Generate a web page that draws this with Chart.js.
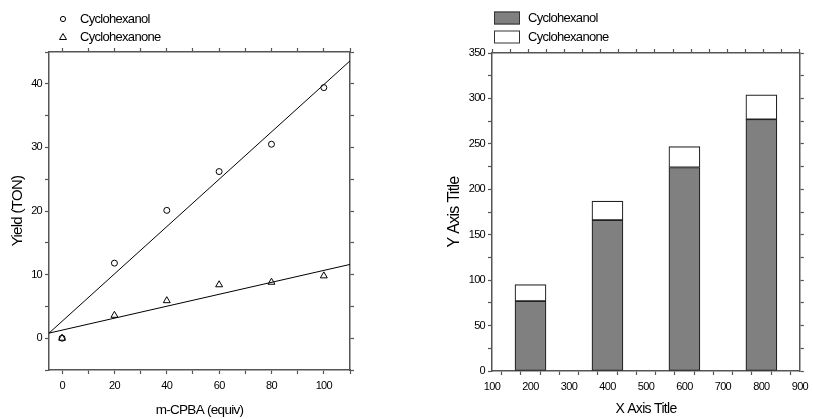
<!DOCTYPE html>
<html>
<head>
<meta charset="utf-8">
<script src="https://cdn.jsdelivr.net/npm/chart.js@4.4.1/dist/chart.umd.min.js"></script>
<style>
  body { margin: 0; background: #fff; }
  canvas { position: absolute; top: 0; }
  #left { left: 0; }
  #right { left: 400px; }
</style>
</head>
<body>
<canvas id="left" width="400" height="419"></canvas>
<canvas id="right" width="413" height="419"></canvas>
<script>
// left panel: yield vs m-CPBA
const equiv = [0, 20, 40, 60, 80, 100];
const anolTON = [0, 11.8, 20.1, 26.2, 30.5, 39.4];
const anoneTON = [0, 3.6, 5.9, 8.4, 8.8, 9.8];
const anolFit = [[-5, 0.8], [110, 43.6]];
const anoneFit = [[-5, 0.8], [110, 11.6]];
const leftXTicks = [0, 10, 20, 30, 40, 50, 60, 70, 80, 90, 100, 110];
const leftYTicks = [-5, 0, 5, 10, 15, 20, 25, 30, 35, 40, 45];

// right panel: stacked bars
const barX = [200, 400, 600, 800];
const barAnol = [77, 166, 224, 277];
const barAnone = [18, 21, 23, 27];
const rightXTicks = [100, 150, 200, 250, 300, 350, 400, 450, 500, 550, 600, 650, 700, 750, 800, 850, 900];
const rightYTicks = [0, 25, 50, 75, 100, 125, 150, 175, 200, 225, 250, 275, 300, 325, 350];

const axisColor = '#555';
const FONT = 'Arial, "Liberation Sans", sans-serif';

const tight = {
  id: 'tight',
  beforeLayout(chart) { chart.ctx.letterSpacing = '-0.7px'; },
  beforeDraw(chart) { chart.ctx.letterSpacing = '-0.7px'; }
};

function legendPlugin(items) {
  return {
    id: 'customLegend',
    afterDraw(chart) {
      const ctx = chart.ctx;
      ctx.save();
      ctx.letterSpacing = '-0.7px';
      items.forEach(it => {
        ctx.strokeStyle = '#000';
        ctx.lineWidth = 1;
        if (it.kind === 'circle') {
          ctx.beginPath();
          ctx.arc(it.x, it.y, 2.6, 0, Math.PI * 2);
          ctx.stroke();
        } else if (it.kind === 'triangle') {
          ctx.beginPath();
          ctx.moveTo(it.x, it.y - 3.5);
          ctx.lineTo(it.x + 3.5, it.y + 2.5);
          ctx.lineTo(it.x - 3.5, it.y + 2.5);
          ctx.closePath();
          ctx.stroke();
        } else {
          ctx.fillStyle = it.fill;
          ctx.fillRect(it.x, it.y - 6.5, 26, 13);
          ctx.strokeStyle = '#333';
          ctx.strokeRect(it.x + 0.5, it.y - 6, 25, 12);
        }
        ctx.fillStyle = '#000';
        ctx.font = '13px ' + FONT;
        ctx.textBaseline = 'middle';
        ctx.textAlign = 'left';
        ctx.fillText(it.text, it.tx, it.y);
      });
      ctx.restore();
    }
  };
}

function linAxis(pos, min, max, tickVals, labelFn, size, title, titlePad, showLabels, titleSize) {
  const ax = {
    type: 'linear',
    position: pos,
    min: min,
    max: max,
    afterBuildTicks: s => { s.ticks = tickVals.map(v => ({ value: v })); },
    afterFit: s => {
      if (pos === 'left' || pos === 'right') s.width = size; else s.height = size;
    },
    border: { display: true, color: axisColor, width: 1.5 },
    grid: { drawOnChartArea: false, drawTicks: true, tickLength: 4, color: axisColor, tickWidth: 1.2 },
    ticks: {
      display: showLabels,
      color: '#000',
      padding: pos === 'bottom' ? 5 : 3,
      font: { family: FONT, size: 11 },
      maxRotation: 0,
      autoSkip: false,
      callback: labelFn
    }
  };
  if (title) {
    ax.title = {
      display: true,
      text: title,
      color: '#000',
      font: { family: FONT, size: titleSize || 14 },
      padding: titlePad
    };
  }
  return ax;
}

new Chart(document.getElementById('left'), {
  type: 'scatter',
  data: {
    datasets: [
      {
        label: 'Cyclohexanol',
        data: equiv.map((x, i) => ({ x: x, y: anolTON[i] })),
        pointStyle: 'circle',
        pointRadius: 3,
        borderColor: '#000',
        backgroundColor: 'rgba(0,0,0,0)',
        borderWidth: 1
      },
      {
        label: 'Cyclohexanone',
        data: equiv.map((x, i) => ({ x: x, y: anoneTON[i] })),
        pointStyle: 'triangle',
        pointRadius: 4,
        borderColor: '#000',
        backgroundColor: 'rgba(0,0,0,0)',
        borderWidth: 1
      },
      {
        label: 'fit1',
        data: anolFit.map(p => ({ x: p[0], y: p[1] })),
        showLine: true,
        pointRadius: 0,
        borderColor: '#000',
        borderWidth: 1
      },
      {
        label: 'fit2',
        data: anoneFit.map(p => ({ x: p[0], y: p[1] })),
        showLine: true,
        pointRadius: 0,
        borderColor: '#000',
        borderWidth: 1
      }
    ]
  },
  options: {
    responsive: false,
    animation: false,
    layout: { padding: 0 },
    plugins: { legend: { display: false }, tooltip: { enabled: false } },
    scales: {
      x: linAxis('bottom', -5, 110, leftXTicks, v => (v % 20 === 0 && v <= 100 ? v : ''), 49, 'm-CPBA (equiv)', { top: 0, bottom: 1 }, true, 13.5),
      x2: linAxis('top', -5, 110, leftXTicks, () => '', 52, null, 0, false),
      y: linAxis('left', -5, 45, leftYTicks, v => (v % 10 === 0 ? v : ''), 49, 'Yield (TON)', { top: 9, bottom: 0 }, true, 15),
      y2: linAxis('right', -5, 45, leftYTicks, () => '', 50, null, 0, false)
    }
  },
  plugins: [tight, legendPlugin([
    { kind: 'circle', x: 63, y: 19, tx: 80, text: 'Cyclohexanol' },
    { kind: 'triangle', x: 63, y: 37, tx: 80, text: 'Cyclohexanone' }
  ])]
});

new Chart(document.getElementById('right'), {
  type: 'bar',
  data: {
    datasets: [
      {
        label: 'Cyclohexanol',
        data: barX.map((x, i) => ({ x: x, y: barAnol[i] })),
        backgroundColor: '#808080',
        borderColor: '#222',
        borderWidth: 1.2,
        borderSkipped: false,
        barThickness: 31
      },
      {
        label: 'Cyclohexanone',
        data: barX.map((x, i) => ({ x: x, y: barAnone[i] })),
        backgroundColor: '#ffffff',
        borderColor: '#222',
        borderWidth: 1.2,
        borderSkipped: false,
        barThickness: 31
      }
    ]
  },
  options: {
    responsive: false,
    animation: false,
    layout: { padding: 0 },
    plugins: { legend: { display: false }, tooltip: { enabled: false } },
    scales: {
      x: Object.assign(linAxis('bottom', 100, 900, rightXTicks, v => (v % 100 === 0 ? v : ''), 48, 'X Axis Title', { top: 0, bottom: 1 }, true, 14), { stacked: true, offset: false }),
      x2: linAxis('top', 100, 900, rightXTicks, () => '', 53, null, 0, false),
      y: Object.assign(linAxis('left', 0, 350, rightYTicks, v => (v % 50 === 0 ? v : ''), 92, 'Y Axis Title', { top: 45, bottom: 0 }, true, 16), { stacked: true }),
      y2: linAxis('right', 0, 350, rightYTicks, () => '', 9, null, 0, false)
    }
  },
  plugins: [tight, legendPlugin([
    { kind: 'box', fill: '#808080', x: 94, y: 18, tx: 128, text: 'Cyclohexanol' },
    { kind: 'box', fill: '#ffffff', x: 94, y: 37, tx: 128, text: 'Cyclohexanone' }
  ])]
});
</script>
</body>
</html>
